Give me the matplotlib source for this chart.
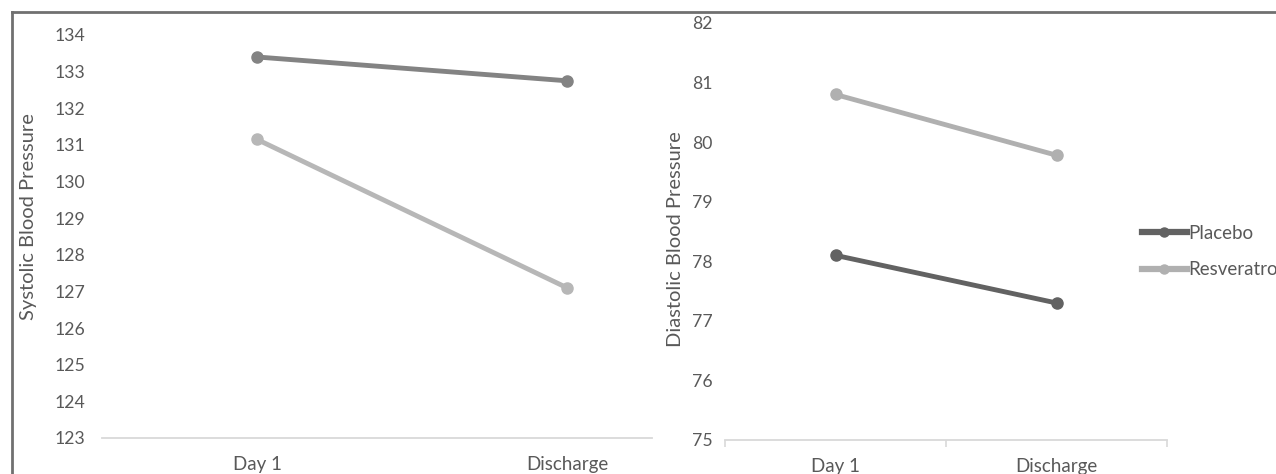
import matplotlib.pyplot as plt
from matplotlib.lines import Line2D

plt.rcParams['font.family'] = ['Lato', 'DejaVu Sans']

days = ["Day 1", "Discharge"]
series_names = ["Placebo", "Resveratrol"]

# systolic (left panel)
systolic_placebo = [133.4, 132.75]
systolic_resveratrol = [131.15, 127.1]

# diastolic (right panel)
diastolic_placebo = [78.1, 77.3]
diastolic_resveratrol = [80.8, 79.78]

W, H = 1276, 474
fig = plt.figure(figsize=(W / 100, H / 100), dpi=100)

txt = "#595959"
axis_col = "#d9d9d9"
col_plac = "#626262"
col_resv = "#b0b0b0"


def box(l, r, b, t):
    # pixel edges -> figure fractions
    return [l / W, (H - b) / H, (r - l) / W, (b - t) / H]


# thin frame at top and left, like the cropped screenshot
fig.add_artist(Line2D([12 / W, 1], [1 - 12 / H, 1 - 12 / H], color="#707070", lw=2))
fig.add_artist(Line2D([12 / W, 12 / W], [0, 1 - 12 / H], color="#707070", lw=2))

# left panel
ax1 = fig.add_axes(box(102, 652, 438, 35))
x = range(len(days))
ax1.plot(x, systolic_placebo, color="#838383", lw=3.5, marker="o", ms=8)
ax1.plot(x, systolic_resveratrol, color="#b7b7b7", lw=3.5, marker="o", ms=8)
ax1.set_ylim(123, 134)
ax1.set_yticks(range(123, 135))
ax1.set_xlim(-0.5, 1.274)
ax1.set_xticks(list(x))
ax1.set_xticklabels(days)
ax1.set_ylabel("Systolic Blood Pressure", fontsize=14.5, color=txt)
ax1.yaxis.set_label_coords(-0.118, 0.55)

# right panel
ax2 = fig.add_axes(box(725, 1167, 440, 23))
ax2.plot(x, diastolic_placebo, color=col_plac, lw=3.5, marker="o", ms=8)
ax2.plot(x, diastolic_resveratrol, color=col_resv, lw=3.5, marker="o", ms=8)
ax2.set_ylim(75, 82)
ax2.set_yticks(range(75, 83))
ax2.set_xlim(-0.5, 1.5)
ax2.set_xticks(list(x))
ax2.set_xticklabels(days)
ax2.set_xticks([-0.5, 0.5, 1.5], minor=True)
ax2.tick_params(axis="x", which="minor", length=5, color=axis_col, width=1.2)
ax2.set_ylabel("Diastolic Blood Pressure", fontsize=14.5, color=txt)
ax2.yaxis.set_label_coords(-0.092, 0.482)

for ax in (ax1, ax2):
    for s in ("top", "right", "left"):
        ax.spines[s].set_visible(False)
    ax.spines["bottom"].set_color(axis_col)
    ax.spines["bottom"].set_linewidth(1.3)
    ax.tick_params(axis="y", length=0, labelsize=12.7, labelcolor=txt, pad=12)
    ax.tick_params(axis="x", which="major", length=0, labelsize=13.5,
                   labelcolor=txt, pad=13)
    ax.set_facecolor("none")
ax2.tick_params(axis="y", pad=9)

# legend sits at the right edge; the long label runs off the figure as in the original
handles = [Line2D([], [], color=col_plac, lw=4.5, marker="o", ms=6.5),
           Line2D([], [], color=col_resv, lw=4.5, marker="o", ms=6.5)]
leg = fig.legend(handles=handles, labels=series_names, loc="upper left",
                 bbox_to_anchor=(1134 / W, 1 - 217 / H), frameon=False,
                 fontsize=13.5, handlelength=2.4, handletextpad=0.1,
                 labelspacing=1.05, borderaxespad=0)
for t in leg.get_texts():
    t.set_color(txt)

fig.savefig("out.png", dpi=100)
